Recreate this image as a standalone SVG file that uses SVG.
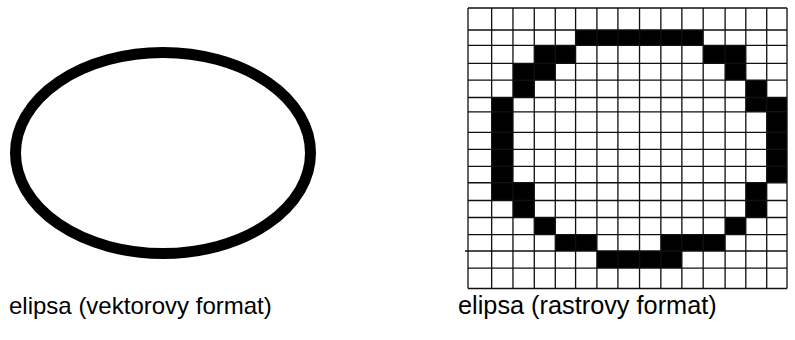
<svg xmlns="http://www.w3.org/2000/svg" width="795" height="340" viewBox="0 0 795 340">
<style>
.lbl{font-family:"Liberation Sans",Arial,sans-serif;font-size:24px;fill:#000}
.g line{stroke:#111;stroke-width:1.3}
.px{fill:#000}
</style>
<rect width="795" height="340" fill="#fff"/>
<g id="vector-ellipse">
<ellipse cx="163" cy="153" rx="147.5" ry="100.5" fill="none" stroke="#000" stroke-width="11"/>
</g>
<g id="raster-ellipse" transform="translate(468,8) scale(1.015,1.023) translate(-470,-8.5)">
<g class="px">
<rect x="576" y="30" width="125.7" height="15"/>
<rect x="535.3" y="45" width="40.7" height="17.7"/>
<rect x="701.7" y="45" width="42" height="17.7"/>
<rect x="514.3" y="62.7" width="41.7" height="16.3"/>
<rect x="723.3" y="62.7" width="20.4" height="16.3"/>
<rect x="514.3" y="79" width="21" height="17"/>
<rect x="743.7" y="79" width="20.6" height="17"/>
<rect x="493.3" y="96" width="21" height="83.3"/>
<rect x="743.7" y="96" width="40.6" height="14"/>
<rect x="764.3" y="110" width="20" height="69.3"/>
<rect x="493.3" y="179.3" width="42" height="17.4"/>
<rect x="514.3" y="196.7" width="21" height="16.6"/>
<rect x="743.7" y="179.3" width="20.6" height="34"/>
<rect x="535.3" y="213.3" width="20.7" height="16.7"/>
<rect x="723.3" y="213.3" width="20.4" height="16.7"/>
<rect x="556" y="230" width="41" height="16"/>
<rect x="660" y="230" width="63.3" height="16"/>
<rect x="597" y="246" width="83.7" height="16.7"/>
</g>
<g class="g">
<line x1="470" y1="8.5" x2="470" y2="282.7"/>
<line x1="493.3" y1="8.5" x2="493.3" y2="282.7"/>
<line x1="514.3" y1="8.5" x2="514.3" y2="282.7"/>
<line x1="535.3" y1="8.5" x2="535.3" y2="282.7"/>
<line x1="556" y1="8.5" x2="556" y2="282.7"/>
<line x1="576" y1="8.5" x2="576" y2="282.7"/>
<line x1="597" y1="8.5" x2="597" y2="282.7"/>
<line x1="617.7" y1="8.5" x2="617.7" y2="282.7"/>
<line x1="639" y1="8.5" x2="639" y2="282.7"/>
<line x1="660" y1="8.5" x2="660" y2="282.7"/>
<line x1="680.7" y1="8.5" x2="680.7" y2="282.7"/>
<line x1="701.7" y1="8.5" x2="701.7" y2="282.7"/>
<line x1="723.3" y1="8.5" x2="723.3" y2="282.7"/>
<line x1="743.7" y1="8.5" x2="743.7" y2="282.7"/>
<line x1="764.3" y1="8.5" x2="764.3" y2="282.7"/>
<line x1="784.3" y1="8.5" x2="784.3" y2="282.7"/>
<line x1="470" y1="8.5" x2="784.3" y2="8.5"/>
<line x1="470" y1="30" x2="784.3" y2="30"/>
<line x1="470" y1="45" x2="784.3" y2="45"/>
<line x1="470" y1="62.7" x2="784.3" y2="62.7"/>
<line x1="470" y1="79" x2="784.3" y2="79"/>
<line x1="470" y1="96" x2="784.3" y2="96"/>
<line x1="470" y1="110" x2="784.3" y2="110"/>
<line x1="470" y1="130" x2="784.3" y2="130"/>
<line x1="470" y1="146.7" x2="784.3" y2="146.7"/>
<line x1="470" y1="163.3" x2="784.3" y2="163.3"/>
<line x1="470" y1="179.3" x2="784.3" y2="179.3"/>
<line x1="470" y1="196.7" x2="784.3" y2="196.7"/>
<line x1="470" y1="213.3" x2="784.3" y2="213.3"/>
<line x1="470" y1="230" x2="784.3" y2="230"/>
<line x1="467" y1="246" x2="784.3" y2="246"/>
<line x1="470" y1="262.7" x2="784.3" y2="262.7"/>
<line x1="470" y1="282.7" x2="784.3" y2="282.7"/>
</g>
</g>
<g id="labels">
<text class="lbl" x="9" y="314">elipsa (vektorovy format)</text>
<text class="lbl" x="458" y="314" style="font-size:25.3px">elipsa (rastrovy format)</text>
</g>
</svg>
